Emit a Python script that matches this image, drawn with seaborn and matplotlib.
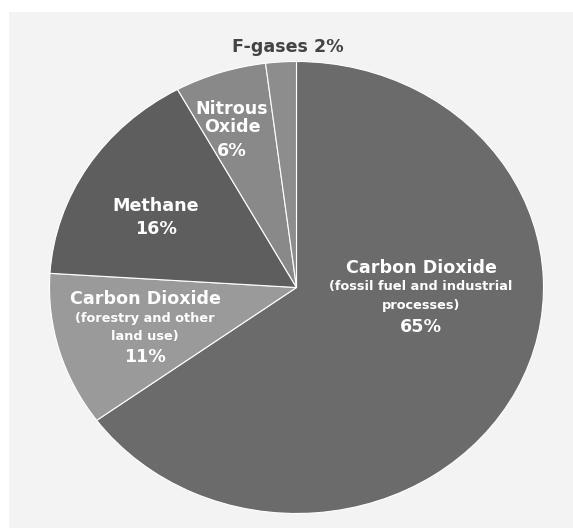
import matplotlib
matplotlib.use("Agg")
import matplotlib.pyplot as plt
from matplotlib.patches import Rectangle
import seaborn as sns

# Global greenhouse gas emissions by gas (share of total, %)
gases = [
    "Carbon Dioxide (fossil fuel and industrial processes)",
    "Carbon Dioxide (forestry and other land use)",
    "Methane",
    "Nitrous Oxide",
    "F-gases",
]
shares = [65, 11, 16, 6, 2]

# Text lines printed inside each slice (the share is appended below / after)
name_lines = [
    ["Carbon Dioxide", "(fossil fuel and industrial", "processes)"],
    ["Carbon Dioxide", "(forestry and other", "land use)"],
    ["Methane"],
    ["Nitrous", "Oxide"],
    ["F-gases"],
]

slice_colors = ["#6b6b6b", "#9a9a9a", "#5e5e5e", "#898989", "#8d8d8d"]

sns.set_theme(style="white")
plt.rcParams["font.family"] = ["DejaVu Sans"]

W, H = 573, 528
fig = plt.figure(figsize=(W / 100, H / 100), dpi=100, facecolor="white")
ax = fig.add_axes([0, 0, 1, 1])
ax.axis("off")

# pie geometry in pixels (slightly wider than tall)
CX, CY, RX, RY = 296.5, 287.5, 247.0, 226.0


def to_data(px, py):
    return (px - CX) / RX, (CY - py) / RY


# light grey panel behind the chart
x0, y0 = to_data(9, H)
x1, y1 = to_data(W + 5, 12)
ax.add_patch(Rectangle((x0, y0), x1 - x0, y1 - y0, facecolor="#f3f3f3",
                       edgecolor="none", zorder=0))

ax.pie(shares, colors=slice_colors, startangle=90, counterclock=False,
       radius=1.0, center=(0, 0),
       wedgeprops=dict(edgecolor="white", linewidth=0.8, zorder=2))
ax.set_aspect("auto")
ax.set_xlim(-CX / RX, (W - CX) / RX)
ax.set_ylim(-(H - CY) / RY, CY / RY)

# label placement: centre x and baselines of each line (pixels)
label_layout = [
    (421, [273, 290, 309, 332]),
    (145, [304, 322, 340, 362]),
    (156, [211, 234]),
    (232, [114, 132, 156]),
    (288, [52]),
]
big, small = 12.6, 9.3

for i, (lines, share) in enumerate(zip(name_lines, shares)):
    cx, baselines = label_layout[i]
    pct = f"{share}%"
    if i == len(shares) - 1:
        texts = [f"{lines[0]} {pct}"]
        color = "#444444"
    else:
        texts = lines + [pct]
        color = "white"
    for j, (t, by) in enumerate(zip(texts, baselines)):
        size = small if t.startswith("(") or t.endswith(")") else big
        xd, yd = to_data(cx, by)
        ax.text(xd, yd, t, ha="center", va="baseline", fontsize=size,
                fontweight="bold", color=color, zorder=5)

fig.savefig("out.png", dpi=100, facecolor="white")
